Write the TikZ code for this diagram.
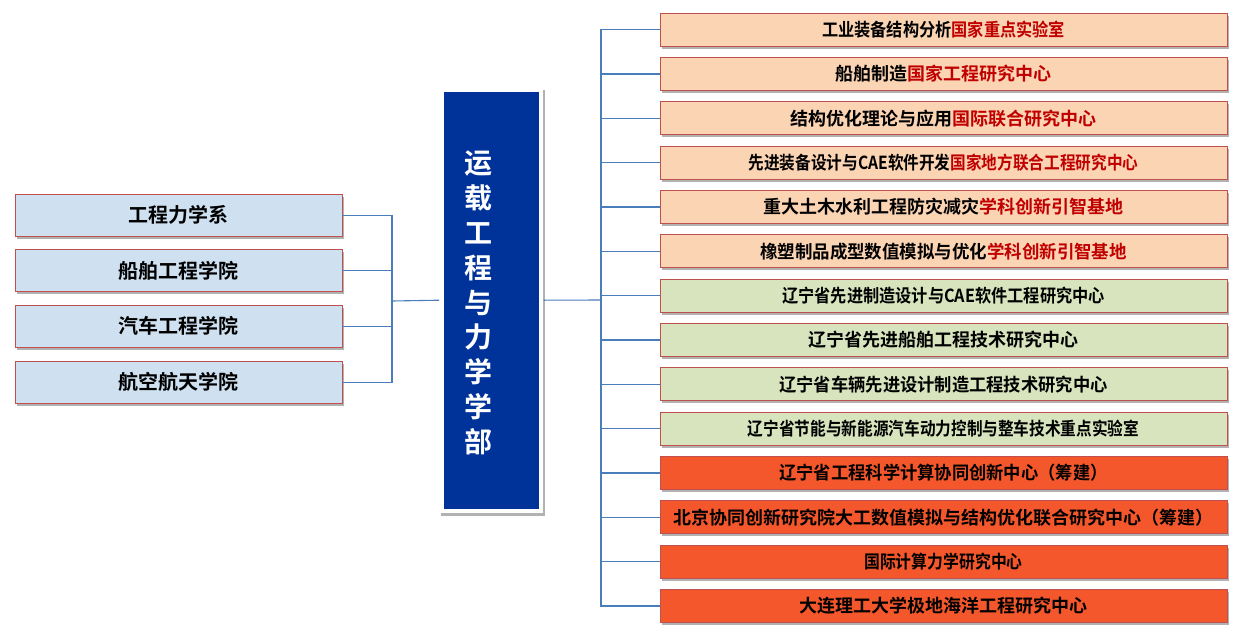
\documentclass[tikz,border=0pt]{standalone}
\usepackage{fontspec}
\usepackage{graphicx}
\setmainfont{Noto Sans CJK SC}[BoldFont={Noto Sans CJK SC Bold}]
\usetikzlibrary{shadows}
\definecolor{boxred}{HTML}{C0504D}
\definecolor{peach}{HTML}{FBD4B4}
\definecolor{lgreen}{HTML}{D7E4BD}
\definecolor{orred}{HTML}{F5572C}
\definecolor{lblue}{HTML}{CFE1F1}
\definecolor{navy}{HTML}{003399}
\definecolor{conn}{HTML}{4A7EBB}
\definecolor{dred}{HTML}{C00000}
\newcommand{\hs}[2]{\scalebox{#1}[1]{#2}}
\newcommand{\rd}[1]{\textcolor{dred}{#1}}
\tikzset{
  shad/.style={drop shadow={shadow xshift=1.5pt, shadow yshift=-2.5pt, opacity=0.3, fill=black}},
  rbox/.style={draw=boxred, line width=0.9pt, minimum height=33, minimum width=567, inner sep=0pt,
    font=\bfseries\fontsize{18}{18}\selectfont, shad},
  lbox/.style={draw=boxred, line width=0.9pt, fill=lblue, minimum height=42, minimum width=327, inner sep=0pt,
    font=\bfseries\fontsize{20}{20}\selectfont, shad},
  cn/.style={draw=conn, line width=1.1pt},
}
\begin{document}
\begin{tikzpicture}[x=1pt,y=-1pt]
\useasboundingbox (0,0) rectangle (1239,635);
% centre
\node[fill=white, minimum width=104, minimum height=426, inner sep=0pt, shad] (C) at (491.3,300.2) {};
\node[fill=navy, minimum width=95, minimum height=417, inner sep=0pt] (Cb) at (491.3,300.5) {};
\node[text=white, font=\bfseries\fontsize{28}{34.8}\selectfont, align=center, inner sep=0pt] (Ct) at (478,303)
  {运\\载\\工\\程\\与\\力\\学\\学\\部};
% left
\node[lbox] (L1) at (178.5,215.3) {工程力学系};
\node[lbox] (L2) at (178.5,270.8) {船舶工程学院};
\node[lbox] (L3) at (178.5,326.3) {汽车工程学院};
\node[lbox] (L4) at (178.5,382.3) {航空航天学院};
% right
\node[rbox, fill=peach] (R1) at (943.5,29.7) {\hs{0.9}{工业装备结构分析\rd{国家重点实验室}}};
\node[rbox, fill=peach] (R2) at (943.5,74.0) {船舶制造\rd{国家工程研究中心}};
\node[rbox, fill=peach] (R3) at (943.5,118.4) {结构优化理论与应用\rd{国际联合研究中心}};
\node[rbox, fill=peach] (R4) at (943.5,162.7) {\hs{0.87}{先进装备设计与CAE软件开发\rd{国家地方联合工程研究中心}}};
\node[rbox, fill=peach] (R5) at (943.5,207.0) {重大土木水利工程防灾减灾\rd{学科创新引智基地}};
\node[rbox, fill=peach] (R6) at (943.5,251.4) {\hs{0.97}{橡塑制品成型数值模拟与优化\rd{学科创新引智基地}}};
\node[rbox, fill=lgreen] (R7) at (943.5,295.7) {\hs{0.9}{辽宁省先进制造设计与CAE软件工程研究中心}};
\node[rbox, fill=lgreen] (R8) at (943.5,340.0) {辽宁省先进船舶工程技术研究中心};
\node[rbox, fill=lgreen] (R9) at (943.5,384.3) {\hs{0.96}{辽宁省车辆先进设计制造工程技术研究中心}};
\node[rbox, fill=lgreen] (R10) at (943.5,428.7) {\hs{0.87}{辽宁省节能与新能源汽车动力控制与整车技术重点实验室}};
\node[rbox, fill=orred] (R11) at (943.5,473.0) {\hs{0.96}{辽宁省工程科学计算协同创新中心（筹建）}};
\node[rbox, fill=orred] (R12) at (943.5,517.3) {北京协同创新研究院大工数值模拟与结构优化联合研究中心（筹建）};
\node[rbox, fill=orred] (R13) at (943.5,561.7) {\hs{0.88}{国际计算力学研究中心}};
\node[rbox, fill=orred] (R14) at (943.5,606.0) {大连理工大学极地海洋工程研究中心};
% connectors
\coordinate (lb) at (392,301);
\coordinate (rb) at (601,300);
\foreach \i in {1,...,4} \draw[cn] (L\i.east) -| (lb);
\draw[cn] (lb) -- (C.west);
\draw[cn] (C.east) -- (rb);
\foreach \i in {1,...,14} \draw[cn] (rb) |- (R\i.west);
\end{tikzpicture}
\end{document}
